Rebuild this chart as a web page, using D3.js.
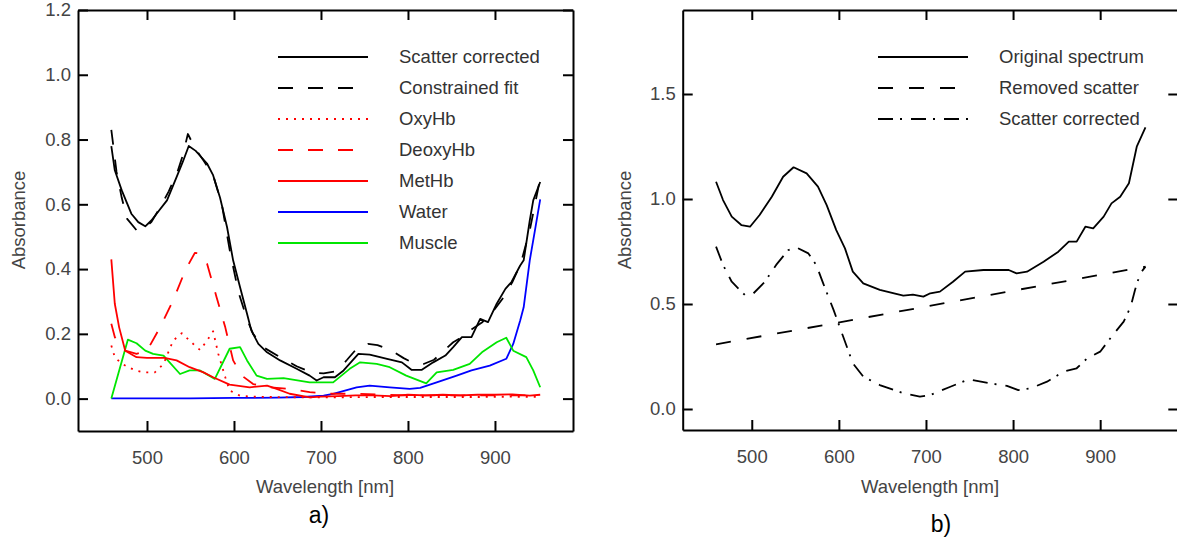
<!DOCTYPE html>
<meta charset="utf-8">
<style>
body{ margin:0; background:white; }
svg{ display:block; }
text{ font-family: "Liberation Sans", Arial, Helvetica, sans-serif; }
.tick text{ fill:#444; font-size:18.5px; }
.ttl{ fill:#444; font-size:18.5px; }
.leg{ fill:#333; font-size:18.5px; }
</style>
<script src="https://d3js.org/d3.v7.min.js"></script>
<svg id="chart"></svg>
<script>
// ---- panel a) data (wavelength nm / absorbance) ----
var scWl  = [459,463,471,482,490,498,505,511,523,534,541,548,556,561,569,576,584,592,599,607,615,620,628,638,653,672,687,695,703,716,726,743,756,776,793,804,816,829,843,852,862,873,883,892,902,912,919,929,933,940,944,952];
var scAbs = [0.78,0.705,0.643,0.571,0.545,0.532,0.55,0.571,0.612,0.684,0.73,0.78,0.765,0.75,0.726,0.69,0.62,0.53,0.427,0.344,0.262,0.21,0.169,0.143,0.118,0.092,0.071,0.056,0.066,0.066,0.087,0.138,0.136,0.123,0.112,0.089,0.089,0.112,0.133,0.159,0.19,0.19,0.246,0.236,0.293,0.339,0.36,0.411,0.427,0.55,0.612,0.669];

var cfWl  = [459,465,471,477,488,496,505,515,525,535,541,547,556,565,576,586,595,605,615,622,634,653,672,690,703,718,730,743,754,765,780,795,806,818,830,842,852,862,871,885,898,910,920,930,940,946,952];
var cfAbs = [0.83,0.70,0.62,0.556,0.52,0.525,0.545,0.59,0.64,0.70,0.75,0.817,0.77,0.735,0.69,0.60,0.46,0.33,0.245,0.20,0.158,0.128,0.10,0.08,0.078,0.085,0.12,0.16,0.169,0.165,0.15,0.125,0.11,0.107,0.12,0.15,0.174,0.19,0.21,0.235,0.27,0.313,0.36,0.42,0.52,0.60,0.68];

var oxWl  = [459,463,470,477,486,496,509,519,530,540,551,561,569,576,582,590,595,607,620,640,680,720,760,800,840,880,920,952];
var oxAbs = [0.164,0.128,0.11,0.099,0.088,0.081,0.081,0.107,0.179,0.202,0.174,0.15,0.179,0.208,0.138,0.066,0.025,0.009,0.006,0.005,0.004,0.004,0.005,0.005,0.005,0.005,0.006,0.005];

var dxWl  = [459,463,475,488,500,515,530,544,555,561,569,580,590,599,609,622,641,664,687,710,740,770,800,830,860,890,920,952];
var dxAbs = [0.231,0.19,0.148,0.138,0.148,0.22,0.303,0.396,0.45,0.448,0.417,0.313,0.22,0.118,0.071,0.045,0.035,0.03,0.02,0.015,0.015,0.012,0.01,0.01,0.01,0.01,0.01,0.01];

var mtWl  = [459,463,468,475,488,500,520,534,549,565,576,595,618,638,649,664,687,700,720,740,760,780,800,820,840,860,880,900,920,940,952];
var mtAbs = [0.43,0.293,0.22,0.148,0.128,0.126,0.126,0.118,0.097,0.081,0.066,0.043,0.035,0.04,0.03,0.015,0.004,0.006,0.008,0.01,0.01,0.008,0.012,0.01,0.012,0.01,0.012,0.012,0.013,0.009,0.012];

var waWl  = [459,500,550,600,650,680,703,714,741,756,779,802,814,833,856,873,894,913,921,929,933,940,946,952];
var waAbs = [0.001,0.001,0.001,0.002,0.003,0.005,0.009,0.015,0.035,0.04,0.035,0.03,0.033,0.05,0.071,0.087,0.102,0.123,0.169,0.241,0.282,0.427,0.52,0.615];

var muWl  = [459,478,488,498,507,519,538,549,561,578,595,607,615,626,638,657,687,703,714,733,745,764,779,798,821,833,852,871,885,902,913,921,936,944,952];
var muAbs = [0.0,0.182,0.171,0.148,0.138,0.133,0.076,0.087,0.087,0.061,0.154,0.159,0.118,0.071,0.061,0.063,0.05,0.05,0.05,0.092,0.112,0.107,0.097,0.071,0.047,0.081,0.089,0.107,0.143,0.174,0.188,0.148,0.128,0.087,0.035];

// ---- panel b) data ----
var osWl  = [459,467,477,488,498,509,523,536,548,563,576,586,597,607,616,628,647,674,685,697,705,716,731,745,766,795,804,816,835,852,864,873,883,892,904,913,923,933,942,952];
var osAbs = [1.082,0.995,0.916,0.876,0.868,0.924,1.011,1.106,1.151,1.122,1.059,0.971,0.852,0.765,0.654,0.598,0.567,0.54,0.545,0.535,0.551,0.559,0.606,0.654,0.662,0.662,0.646,0.654,0.701,0.749,0.797,0.797,0.868,0.86,0.916,0.979,1.011,1.075,1.249,1.341];

var rsWl  = [459,597,952];
var rsAbs = [0.308,0.41,0.678];

var crWl  = [459,467,477,492,502,515,528,542,551,565,574,582,594,605,616,628,647,674,693,705,728,749,774,793,806,820,839,858,873,885,900,913,927,935,940,946,952];
var crAbs = [0.773,0.686,0.606,0.543,0.551,0.606,0.686,0.757,0.77,0.741,0.686,0.598,0.471,0.344,0.218,0.154,0.114,0.075,0.059,0.067,0.106,0.141,0.122,0.11,0.09,0.098,0.13,0.178,0.194,0.241,0.273,0.344,0.416,0.487,0.567,0.646,0.678];

var xTicks = [500,600,700,800,900];
var yTicksA = [0,0.2,0.4,0.6,0.8,1.0,1.2];
var yTicksB = [0,0.5,1.0,1.5];

var legendA = ["Scatter corrected","Constrained fit","OxyHb","DeoxyHb","MetHb","Water","Muscle"];
var legendB = ["Original spectrum","Removed scatter","Scatter corrected"];

var svg = d3.select("#chart").attr("width", 1177).attr("height", 540);

// draw one framed panel, returns scales
function makePanel(left, right, top, bottom, yDom, yTicks){
  var x = d3.scaleLinear().domain([420.7, 989.7]).range([left, right]);
  var y = d3.scaleLinear().domain(yDom).range([bottom, top]);
  var g = svg.append("g");
  var fmt = d3.format(".1f");

  var ax = [
    [d3.axisBottom(x).tickValues(xTicks).tickFormat(d3.format("d")).tickPadding(20), "translate(0," + bottom + ")"],
    [d3.axisTop(x).tickValues(xTicks).tickFormat(""), "translate(0," + top + ")"],
    [d3.axisLeft(y).tickValues(yTicks).tickFormat(fmt).tickPadding(7), "translate(" + left + ",0)"],
    [d3.axisRight(y).tickValues(yTicks).tickFormat(""), "translate(" + right + ",0)"]
  ];
  ax.forEach(function(a){
    var s = g.append("g").attr("transform", a[1])
      .call(a[0].tickSizeInner(-10).tickSizeOuter(0));
    s.select(".domain").attr("stroke", "#000").attr("stroke-width", 2);
    s.selectAll(".tick line").attr("stroke", "#000").attr("stroke-width", 2);
    s.selectAll(".tick text").attr("font-family", null).attr("font-size", null).attr("fill", null);
  });
  return {x: x, y: y};
}

function curve(p, wl, ab, color, dash){
  var line = d3.line().x(function(d){ return p.x(d[0]); }).y(function(d){ return p.y(d[1]); });
  svg.append("path")
    .attr("d", line(d3.zip(wl, ab)))
    .attr("fill", "none")
    .attr("stroke", color)
    .attr("stroke-width", 1.8)
    .attr("stroke-linejoin", "round")
    .attr("stroke-dasharray", dash);
}

function legend(names, styles, x0, x1, xt, y0, dy){
  names.forEach(function(n, i){
    var yy = y0 + i * dy;
    svg.append("line").attr("x1", x0).attr("x2", x1).attr("y1", yy).attr("y2", yy)
      .attr("stroke", styles[i][0]).attr("stroke-width", 2).attr("stroke-dasharray", styles[i][1]);
    svg.append("text").attr("class", "leg").attr("x", xt).attr("y", yy + 6).text(n);
  });
}

// ---- panel a ----
var pa = makePanel(78, 573, 10, 431, [-0.1, 1.2], yTicksA);
curve(pa, waWl, waAbs, "#0000ff", null);
curve(pa, muWl, muAbs, "#00e600", null);
curve(pa, mtWl, mtAbs, "#ff0000", null);
curve(pa, dxWl, dxAbs, "#ff0000", "15,15");
curve(pa, oxWl, oxAbs, "#ff0000", "2,6");
curve(pa, cfWl, cfAbs, "#000", "15,15");
curve(pa, scWl, scAbs, "#000", null);
legend(legendA, [["#000",null],["#000","15,15"],["#ff0000","2,6"],["#ff0000","15,15"],["#ff0000",null],["#0000ff",null],["#00e600",null]],
  278, 368, 399, 57, 31);

svg.append("text").attr("class", "ttl").attr("text-anchor", "middle")
  .attr("transform", "translate(25,220) rotate(-90)").text("Absorbance");
svg.append("text").attr("class", "ttl").attr("text-anchor", "middle")
  .attr("x", 325).attr("y", 493).text("Wavelength [nm]");
svg.append("text").attr("text-anchor", "middle").attr("x", 319).attr("y", 523)
  .attr("font-size", 23).attr("fill", "#000").text("a)");

// ---- panel b ----
var pb = makePanel(682.7, 1178.3, 10, 430, [-0.1, 1.9], yTicksB);
curve(pb, rsWl, rsAbs, "#000", "15,16");
curve(pb, crWl, crAbs, "#000", "15,7,2,9");
curve(pb, osWl, osAbs, "#000", null);
legend(legendB, [["#000",null],["#000","15,16"],["#000","15,7,2,9"]], 878, 968, 999, 57, 31);

svg.append("text").attr("class", "ttl").attr("text-anchor", "middle")
  .attr("transform", "translate(631,220) rotate(-90)").text("Absorbance");
svg.append("text").attr("class", "ttl").attr("text-anchor", "middle")
  .attr("x", 930).attr("y", 493).text("Wavelength [nm]");
svg.append("text").attr("text-anchor", "middle").attr("x", 941).attr("y", 532)
  .attr("font-size", 23).attr("fill", "#000").text("b)");
</script>
